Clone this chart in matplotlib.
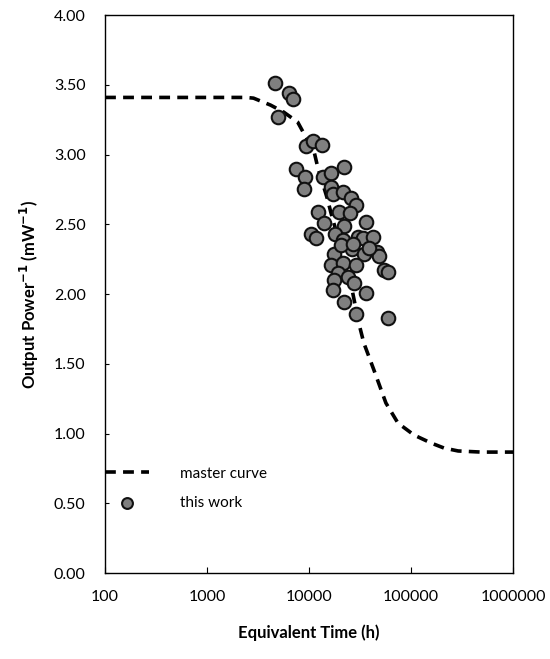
import numpy as np
import matplotlib
matplotlib.use("Agg")
import matplotlib.pyplot as plt

plt.rcParams['font.family'] = ['Lato', 'DejaVu Sans']
plt.rcParams['mathtext.fontset'] = 'dejavusans'

# master curve
curve_t = [100, 1000, 2000, 2400, 2850, 4190, 5630, 7730, 8850, 11100, 12150,
           15240, 16300, 20450, 25600, 30700, 34400, 43200, 56600, 74300,
           106900, 157000, 210000, 289000, 486000, 1000000]
curve_p = [3.41, 3.41, 3.41, 3.41, 3.405, 3.355, 3.305, 3.233, 3.154, 3.032, 2.91,
           2.674, 2.588, 2.33, 2.079, 1.792, 1.649, 1.455, 1.219, 1.075,
           0.989, 0.932, 0.896, 0.875, 0.867, 0.867]

# this work
work_t = [4590, 6300, 6900, 4910, 9270, 10840, 13300, 7390, 9060, 8850,
          13600, 16300, 21900, 16300, 17060, 21400, 25600, 28700, 12150, 19550,
          25100, 13900, 21900, 36000, 10370, 11600, 17850, 21400, 30000, 33700,
          42200, 17450, 26200, 34400, 46200, 48300, 16300, 21400, 28700, 54200,
          59300, 19100, 24000, 17450, 27500, 17060, 36000, 21900, 28700, 59300,
          20450, 26800, 39000]
work_p = [3.51, 3.44, 3.40, 3.27, 3.06, 3.10, 3.07, 2.90, 2.84, 2.75,
          2.84, 2.87, 2.91, 2.77, 2.72, 2.73, 2.69, 2.64, 2.59, 2.59,
          2.58, 2.51, 2.49, 2.52, 2.43, 2.40, 2.43, 2.39, 2.41, 2.40,
          2.41, 2.29, 2.32, 2.29, 2.30, 2.27, 2.21, 2.22, 2.21, 2.17,
          2.16, 2.15, 2.12, 2.10, 2.08, 2.03, 2.01, 1.94, 1.86, 1.83,
          2.35, 2.36, 2.33]

fig = plt.figure(figsize=(5.5, 6.59), dpi=100)
ax = fig.add_axes([0.191, 0.1305, 0.742, 0.8465])

ax.plot(curve_t, curve_p, color='black', lw=2.6, dashes=(3, 2),
        label='master curve', zorder=2)
ax.scatter(work_t, work_p, s=95, facecolor='#808080', edgecolor='#111111',
           linewidth=1.5, label='this work', zorder=3)

ax.set_xscale('log')
ax.set_xlim(100, 1000000)
ax.set_ylim(0, 4)
ax.set_xticks([100, 1000, 10000, 100000, 1000000])
ax.set_xticklabels(['100', '1000', '10000', '100000', '1000000'])
ax.xaxis.set_minor_locator(matplotlib.ticker.NullLocator())
ax.set_yticks(np.arange(0, 4.01, 0.5))
ax.set_yticklabels(['%.2f' % v for v in np.arange(0, 4.01, 0.5)])

ax.tick_params(axis='x', direction='in', length=4, pad=12, labelsize=11.5)
ax.tick_params(axis='y', direction='in', length=3, pad=14, labelsize=11.5)
for sp in ax.spines.values():
    sp.set_linewidth(1.0)

ax.set_xlabel('Equivalent Time (h)', fontsize=12, fontweight='bold', labelpad=15)
ax.set_ylabel(r'Output Power$^{\mathbf{-1}}$ (mW$^{\mathbf{-1}}$)', fontsize=12,
              fontweight='bold', labelpad=9)

ax.legend(loc='center left', bbox_to_anchor=(0, 0.152), frameon=False,
          borderpad=0, borderaxespad=0, handlelength=2.9, handletextpad=2.0,
          labelspacing=1.0, fontsize=11, markerscale=0.8)

fig.savefig('out.png', dpi=100)
